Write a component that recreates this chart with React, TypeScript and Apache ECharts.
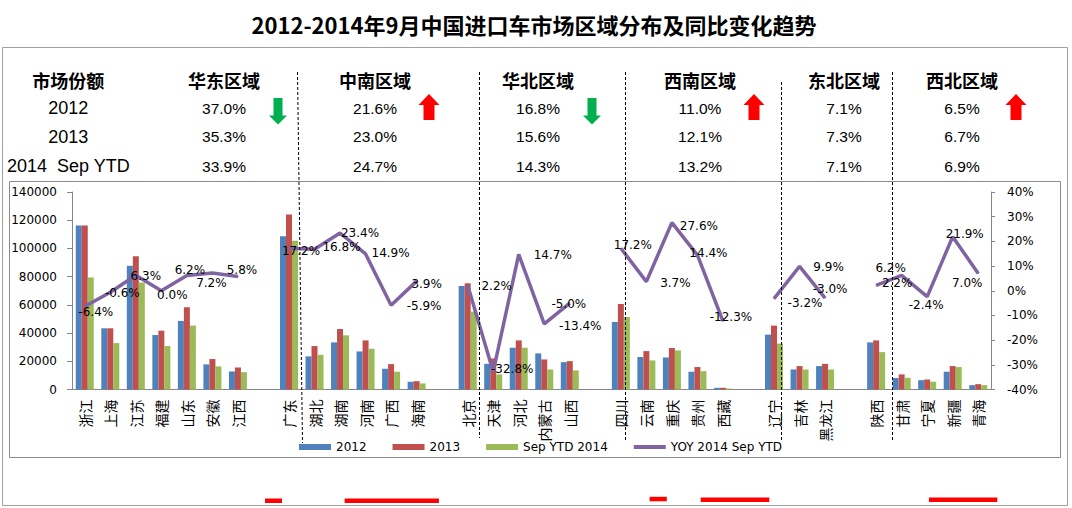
import React, { useEffect, useRef } from 'react';
import * as echarts from 'echarts';

const TITLE = '2012-2014年9月中国进口车市场区域分布及同比变化趋势';

// ---- share table data ----
const tableHeader = '市场份额';
const regions = ['华东区域', '中南区域', '华北区域', '西南区域', '东北区域', '西北区域'];
const share2012 = [37.0, 21.6, 16.8, 11.0, 7.1, 6.5];
const share2013 = [35.3, 23.0, 15.6, 12.1, 7.3, 6.7];
const share2014 = [33.9, 24.7, 14.3, 13.2, 7.1, 6.9];
const trend = ['down', 'up', 'down', 'up', 'none', 'up'];
const rowLabels = ['2012', '2013', '2014\u00a0 Sep YTD'];

// ---- chart data ----
const categories = ['浙江', '上海', '江苏', '福建', '山东', '安徽', '江西', ' ',
  '广东', '湖北', '湖南', '河南', '广西', '海南', '  ',
  '北京', '天津', '河北', '内蒙古', '山西', '   ',
  '四川', '云南', '重庆', '贵州', '西藏', '    ',
  '辽宁', '吉林', '黑龙江', '     ',
  '陕西', '甘肃', '宁夏', '新疆', '青海'];

const v2012 = [116300, 43400, 87700, 38600, 48600, 17800, 12800, null,
  108700, 23500, 33400, 27000, 14700, 5500, null,
  73400, 18200, 29600, 25600, 19400, null,
  47900, 23000, 22700, 12600, 1200, null,
  38900, 14200, 16600, null,
  33400, 8100, 6600, 12600, 3100];
const v2013 = [116300, 43400, 94500, 41700, 58300, 21600, 15600, null,
  124100, 30800, 42900, 34800, 18000, 5900, null,
  75300, 22000, 34800, 21300, 20100, null,
  60600, 27200, 29400, 15900, 1200, null,
  45300, 16600, 18200, null,
  34800, 10700, 7100, 16600, 3800];
const v2014 = [79400, 32900, 75800, 30800, 45300, 16400, 12300, null,
  105400, 24600, 38400, 28900, 12600, 4300, null,
  55200, 10700, 29600, 14200, 13500, null,
  51400, 20600, 27700, 13000, 700, null,
  32500, 14200, 14200, null,
  26500, 8300, 5500, 15900, 3100];
const yoy = [-6.4, -0.6, 6.3, 0.0, 6.2, 7.2, 5.8, null,
  17.2, 16.8, 23.4, 14.9, -5.9, 3.9, null,
  2.2, -32.8, 14.7, -13.4, -5.0, null,
  17.2, 3.7, 27.6, 14.4, -12.3, null,
  -3.2, 9.9, -3.0, null,
  2.2, 6.2, -2.4, 21.9, 7.0];

// ---- styles / layout ----
const labelOffsets: (number[] | null)[] = [[11, 5], [12, 1], [10, 1], [11, 4], [3, -5], [-1, 10], [4, -6], null,
  [12, 3], [27, -2], [20, 0], [25, -1], [33, 1], [10, 3], null,
  [29, 1], [19, -3], [34, 1], [36, 2], [-1, 1], null,
  [12, -3], [29, 1], [27, 3], [11, -2], [8, -4], null,
  [31, 4], [29, 1], [5, -9], null,
  [21, -2], [-11, -7], [-1, 8], [12, -3], [-11, 10]];
const colX = [224, 375, 538, 700, 844, 962];
const rowY = [108.3, 136.7, 166];
const headerY = 79.5;
const sepLines = [[297, 72, 302, 443], [479, 72, 479, 438], [625, 72, 625, 441], [781, 82, 781, 440], [892, 72, 892, 442]];
const redMarks = [[265, 498.5, 17, 4.5], [344.6, 498.5, 94.3, 4.5], [649.6, 496.8, 17.2, 4.5], [700.7, 497.6, 68.6, 4.5], [929, 497.6, 68.3, 4.5]];

const C2012 = '#4F81BD';
const C2013 = '#C0504D';
const C2014 = '#9BBB59';
const CYOY = '#8064A2';
const AXIS = '#868686';
const CJK = '"Noto Sans CJK SC", sans-serif';
const VERD = '"DejaVu Sans", sans-serif';
const ARIAL = '"Liberation Sans", Arial, sans-serif';

function text(t: string, x: number, y: number, size: number, family: string, weight = 'normal'): any {
  return {
    type: 'text', x, y, z: 20,
    style: {
      text: t, x: 0, y: 0, fill: '#000', fontSize: size, fontFamily: family, fontWeight: weight,
      align: 'center', verticalAlign: 'middle', textAlign: 'center', textVerticalAlign: 'middle',
    },
  };
}

function arrow(cx: number, dir: string): any {
  const up = dir === 'up';
  const w = up ? 21 : 18;
  const sw = up ? 11 : 9;
  const hh = up ? 11 : 9;
  const top = up ? 94 : 98;
  const bot = up ? 120 : 124.5;
  const pts = up
    ? [[cx, top], [cx + w / 2, top + hh], [cx + sw / 2, top + hh], [cx + sw / 2, bot], [cx - sw / 2, bot], [cx - sw / 2, top + hh], [cx - w / 2, top + hh]]
    : [[cx, bot], [cx + w / 2, bot - hh], [cx + sw / 2, bot - hh], [cx + sw / 2, top], [cx - sw / 2, top], [cx - sw / 2, bot - hh], [cx - w / 2, bot - hh]];
  return { type: 'polygon', z: 20, shape: { points: pts }, style: { fill: up ? '#FF0000' : '#00B050' } };
}

function buildGraphics(): any[] {
  const g: any[] = [];
  g.push({ type: 'rect', z: -1, shape: { x: 2.5, y: 47.5, width: 1065, height: 458 }, style: { fill: 'none', stroke: '#a0a0a0', lineWidth: 1 } });
  g.push({ type: 'rect', z: -1, shape: { x: 9.5, y: 181.5, width: 1051, height: 276 }, style: { fill: 'none', stroke: '#8c8c8c', lineWidth: 1 } });
  g.push(text(TITLE, 534, 23.5, 22, CJK, 'bold'));
  g.push(text(tableHeader, 68.3, headerY, 18, CJK, 'bold'));
  rowLabels.forEach((r, j) => g.push(text(r, 68.3, rowY[j], 18, ARIAL)));
  const shares = [share2012, share2013, share2014];
  regions.forEach((name, i) => {
    g.push(text(name, colX[i], headerY, 18, CJK, 'bold'));
    shares.forEach((arr, j) => g.push(text(arr[i].toFixed(1) + '%', colX[i], rowY[j], 15.5, ARIAL)));
    if (trend[i] !== 'none') g.push(arrow(colX[i] + 54, trend[i]));
  });
  sepLines.forEach(([x1, y1, x2, y2]) => g.push({
    type: 'line', z: 50, shape: { x1: x1 + 0.5, y1, x2: x2 + 0.5, y2 },
    style: { stroke: '#000', lineWidth: 1, lineDash: [3, 2] },
  }));
  redMarks.forEach(([x, y, w, h]) => g.push({ type: 'rect', z: 20, shape: { x, y, width: w, height: h }, style: { fill: '#FF0000' } }));
  return g;
}

export default function App() {
  const ref = useRef<HTMLDivElement>(null);
  useEffect(() => {
    if (!ref.current) return;
    const chart = echarts.init(ref.current, null, { renderer: 'svg' });
    const barCommon = { type: 'bar', barWidth: 6, barGap: '0%', z: 2 };
    chart.setOption({
      animation: false,
      backgroundColor: '#fff',
      grid: { left: 72, right: 81, top: 192, bottom: 118.5, containLabel: false },
      legend: {
        left: 294, top: 436, itemWidth: 32, itemHeight: 6, itemGap: 26,
        textStyle: { fontFamily: VERD, fontSize: 12, color: '#000' },
        data: [
          { name: '2012', icon: 'rect' },
          { name: '2013', icon: 'rect' },
          { name: 'Sep YTD 2014', icon: 'rect' },
          { name: 'YOY 2014 Sep YTD', icon: 'path://M0 0H32V4H0Z', itemStyle: { color: CYOY } },
        ],
      },
      xAxis: {
        type: 'category', data: categories,
        axisLine: { lineStyle: { color: AXIS } },
        axisTick: { length: 4, lineStyle: { color: AXIS } },
        axisLabel: { interval: 0, rotate: 90, margin: 10, fontSize: 14, fontFamily: CJK, color: '#000' },
      },
      yAxis: [
        {
          type: 'value', min: 0, max: 140000, interval: 20000,
          splitLine: { show: false },
          axisLine: { show: true, lineStyle: { color: AXIS } },
          axisTick: { show: true, length: 5, lineStyle: { color: AXIS } },
          axisLabel: { color: '#000', fontFamily: VERD, fontSize: 12, margin: 15, formatter: (v: number) => String(v) },
        },
        {
          type: 'value', min: -40, max: 40, interval: 10, position: 'right',
          splitLine: { show: false },
          axisLine: { show: true, lineStyle: { color: AXIS } },
          axisTick: { show: true, length: 4, lineStyle: { color: AXIS } },
          axisLabel: { color: '#000', fontFamily: VERD, fontSize: 12, margin: 16, formatter: '{value}%' },
        },
      ],
      series: [
        { ...barCommon, name: '2012', data: v2012, itemStyle: { color: C2012 } },
        { ...barCommon, name: '2013', data: v2013, itemStyle: { color: C2013 } },
        { ...barCommon, name: 'Sep YTD 2014', data: v2014, itemStyle: { color: C2014 } },
        {
          type: 'line', name: 'YOY 2014 Sep YTD', yAxisIndex: 1, z: 5,
          symbol: 'circle', symbolSize: 1, showSymbol: true, connectNulls: false,
          itemStyle: { color: CYOY },
          lineStyle: { color: CYOY, width: 3.5 },
          label: {
            show: true, position: 'inside', color: '#000', fontFamily: VERD, fontSize: 12,
            formatter: (p: any) => Number(p.value).toFixed(1) + '%',
          },
          data: yoy.map((v, i) => (v == null ? null : { value: v, label: { offset: labelOffsets[i] || [0, 0] } })),
        },
      ],
      graphic: { elements: buildGraphics() },
    });
    return () => chart.dispose();
  }, []);
  return <div ref={ref} style={{ position: 'absolute', left: 0, top: 0, width: 1072, height: 508 }} />;
}
